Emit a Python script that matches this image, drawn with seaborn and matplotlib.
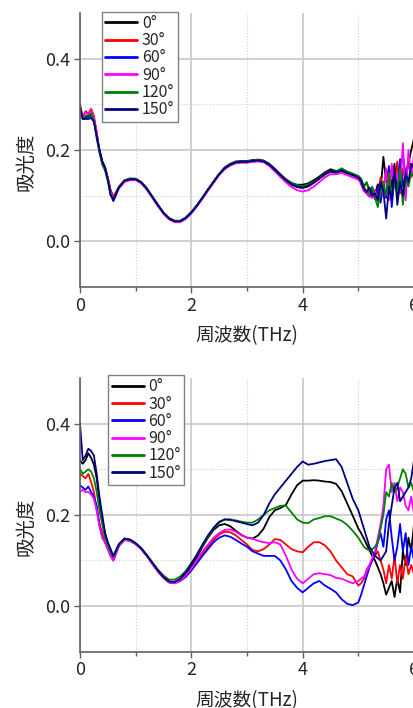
import numpy as np
import pandas as pd
import matplotlib
matplotlib.use("Agg")
import matplotlib.pyplot as plt
import seaborn as sns
from matplotlib.ticker import FormatStrFormatter

# frequency grid (THz): finer at the start and in the noisy tail
freq = np.round(np.r_[np.arange(0, 0.61, 0.05), np.arange(0.7, 5.01, 0.1), np.arange(5.05, 6.001, 0.05)], 2)

angles = ["0°", "30°", "60°", "90°", "120°", "150°"]
colors = ["#000000", "#ff0000", "#0000ff", "#ff00ff", "#008000", "#000080"]

# upper panel
top_0 = [0.300, 0.270, 0.272, 0.274, 0.276, 0.268, 0.235, 0.200, 0.176, 0.163, 0.140, 0.112, 0.097,
         0.120, 0.133, 0.137, 0.137, 0.130, 0.116, 0.098, 0.080, 0.063, 0.051, 0.045, 0.045, 0.052, 0.064,
         0.079, 0.096, 0.114, 0.131, 0.148, 0.162, 0.170, 0.175, 0.176, 0.176, 0.178, 0.179, 0.177, 0.170,
         0.159, 0.147, 0.136, 0.128, 0.124, 0.124, 0.127, 0.134, 0.142, 0.151, 0.158, 0.154, 0.157, 0.152,
         0.148, 0.142,
         0.135, 0.122, 0.128, 0.112, 0.118, 0.104, 0.125, 0.112, 0.185, 0.130, 0.160, 0.118, 0.170, 0.100,
         0.150, 0.190, 0.140, 0.170, 0.200, 0.225]
top_30 = [0.295, 0.272, 0.285, 0.280, 0.290, 0.275, 0.238, 0.198, 0.175, 0.160, 0.138, 0.110, 0.095,
          0.118, 0.132, 0.136, 0.136, 0.129, 0.115, 0.097, 0.079, 0.062, 0.050, 0.044, 0.044, 0.051, 0.063,
          0.078, 0.095, 0.113, 0.130, 0.147, 0.160, 0.168, 0.173, 0.174, 0.174, 0.176, 0.177, 0.175, 0.167,
          0.156, 0.144, 0.133, 0.124, 0.119, 0.117, 0.120, 0.128, 0.137, 0.146, 0.152, 0.150, 0.154, 0.148,
          0.144, 0.138,
          0.130, 0.118, 0.110, 0.105, 0.098, 0.112, 0.100, 0.140, 0.120, 0.150, 0.110, 0.160, 0.130, 0.175,
          0.105, 0.160, 0.130, 0.175, 0.150, 0.165]
top_60 = [0.290, 0.268, 0.270, 0.270, 0.272, 0.265, 0.232, 0.197, 0.172, 0.160, 0.135, 0.105, 0.088,
          0.117, 0.132, 0.136, 0.136, 0.129, 0.115, 0.097, 0.079, 0.062, 0.050, 0.044, 0.044, 0.051, 0.063,
          0.078, 0.095, 0.113, 0.130, 0.147, 0.160, 0.168, 0.173, 0.175, 0.175, 0.176, 0.177, 0.175, 0.168,
          0.157, 0.145, 0.133, 0.124, 0.119, 0.117, 0.121, 0.129, 0.138, 0.147, 0.153, 0.151, 0.155, 0.150,
          0.146, 0.143,
          0.125, 0.112, 0.105, 0.098, 0.110, 0.092, 0.118, 0.085, 0.125, 0.095, 0.165, 0.075, 0.140, 0.110,
          0.180, 0.120, 0.150, 0.175, 0.160, 0.150]
top_90 = [0.285, 0.272, 0.282, 0.278, 0.286, 0.270, 0.240, 0.195, 0.170, 0.158, 0.138, 0.108, 0.092,
          0.116, 0.130, 0.134, 0.134, 0.127, 0.113, 0.095, 0.077, 0.060, 0.048, 0.042, 0.042, 0.049, 0.061,
          0.076, 0.093, 0.111, 0.128, 0.145, 0.158, 0.166, 0.171, 0.172, 0.172, 0.174, 0.175, 0.173, 0.165,
          0.153, 0.141, 0.129, 0.119, 0.112, 0.109, 0.112, 0.120, 0.130, 0.140, 0.147, 0.147, 0.150, 0.145,
          0.140, 0.135,
          0.128, 0.110, 0.105, 0.100, 0.095, 0.110, 0.088, 0.130, 0.100, 0.160, 0.090, 0.170, 0.120, 0.150,
          0.110, 0.215, 0.090, 0.200, 0.140, 0.190]
top_120 = [0.290, 0.268, 0.275, 0.276, 0.280, 0.265, 0.225, 0.195, 0.168, 0.155, 0.132, 0.100, 0.092,
           0.119, 0.134, 0.138, 0.137, 0.130, 0.116, 0.098, 0.080, 0.063, 0.051, 0.045, 0.045, 0.052, 0.064,
           0.079, 0.096, 0.114, 0.131, 0.148, 0.161, 0.169, 0.174, 0.175, 0.175, 0.177, 0.178, 0.176, 0.169,
           0.158, 0.146, 0.135, 0.127, 0.123, 0.121, 0.124, 0.131, 0.139, 0.148, 0.155, 0.153, 0.160, 0.153,
           0.148, 0.143,
           0.138, 0.118, 0.130, 0.105, 0.120, 0.095, 0.075, 0.110, 0.130, 0.100, 0.150, 0.095, 0.130, 0.110,
           0.160, 0.080, 0.140, 0.120, 0.150, 0.140]
top_150 = [0.292, 0.268, 0.268, 0.268, 0.270, 0.262, 0.230, 0.200, 0.175, 0.160, 0.135, 0.102, 0.090,
           0.118, 0.133, 0.136, 0.136, 0.129, 0.115, 0.097, 0.079, 0.062, 0.050, 0.044, 0.044, 0.051, 0.063,
           0.078, 0.095, 0.113, 0.130, 0.147, 0.160, 0.168, 0.173, 0.174, 0.174, 0.176, 0.177, 0.175, 0.168,
           0.157, 0.145, 0.134, 0.125, 0.120, 0.118, 0.121, 0.129, 0.138, 0.147, 0.154, 0.151, 0.155, 0.150,
           0.145, 0.140,
           0.132, 0.115, 0.108, 0.118, 0.100, 0.105, 0.090, 0.130, 0.110, 0.050, 0.120, 0.090, 0.160, 0.080,
           0.130, 0.100, 0.150, 0.130, 0.170, 0.160]

# lower panel
bot_0 = [0.320, 0.312, 0.320, 0.335, 0.325, 0.310, 0.280, 0.230, 0.190, 0.160, 0.138, 0.122, 0.108,
         0.135, 0.148, 0.145, 0.137, 0.126, 0.111, 0.094, 0.077, 0.063, 0.053, 0.052, 0.059, 0.071, 0.088,
         0.107, 0.130, 0.150, 0.167, 0.177, 0.180, 0.175, 0.165, 0.156, 0.150, 0.148, 0.155, 0.170, 0.195,
         0.210, 0.215, 0.222, 0.245, 0.265, 0.275, 0.275, 0.276, 0.275, 0.273, 0.272, 0.268, 0.252, 0.225,
         0.198, 0.170,
         0.160, 0.148, 0.135, 0.122, 0.110, 0.100, 0.085, 0.070, 0.050, 0.025, 0.040, 0.055, 0.020, 0.060,
         0.030, 0.120, 0.090, 0.150, 0.120, 0.180]
bot_30 = [0.290, 0.285, 0.280, 0.290, 0.272, 0.250, 0.210, 0.180, 0.160, 0.140, 0.128, 0.115, 0.102,
          0.133, 0.146, 0.144, 0.136, 0.125, 0.110, 0.093, 0.076, 0.062, 0.052, 0.051, 0.056, 0.066, 0.080,
          0.097, 0.115, 0.130, 0.145, 0.157, 0.163, 0.162, 0.155, 0.145, 0.135, 0.123, 0.120, 0.125, 0.135,
          0.147, 0.145, 0.135, 0.125, 0.120, 0.118, 0.130, 0.140, 0.140, 0.133, 0.120, 0.100, 0.085, 0.070,
          0.065, 0.045,
          0.050, 0.060, 0.080, 0.090, 0.100, 0.110, 0.120, 0.100, 0.080, 0.050, 0.090, 0.060, 0.110, 0.050,
          0.090, 0.060, 0.110, 0.070, 0.090, 0.070]
bot_60 = [0.265, 0.260, 0.255, 0.262, 0.250, 0.240, 0.220, 0.180, 0.150, 0.140, 0.125, 0.110, 0.100,
          0.132, 0.145, 0.143, 0.136, 0.125, 0.110, 0.093, 0.076, 0.062, 0.052, 0.050, 0.055, 0.064, 0.078,
          0.094, 0.110, 0.125, 0.140, 0.150, 0.155, 0.152, 0.145, 0.137, 0.130, 0.120, 0.115, 0.110, 0.110,
          0.110, 0.100, 0.080, 0.055, 0.040, 0.030, 0.040, 0.050, 0.055, 0.045, 0.038, 0.030, 0.015, 0.005,
          0.002, 0.008,
          0.025, 0.045, 0.065, 0.085, 0.100, 0.115, 0.140, 0.160, 0.130, 0.190, 0.210, 0.150, 0.100, 0.130,
          0.180, 0.120, 0.160, 0.090, 0.130, 0.100]
bot_90 = [0.250, 0.255, 0.250, 0.250, 0.245, 0.235, 0.210, 0.175, 0.150, 0.140, 0.125, 0.110, 0.100,
          0.133, 0.145, 0.143, 0.136, 0.125, 0.110, 0.093, 0.076, 0.062, 0.052, 0.050, 0.056, 0.067, 0.082,
          0.100, 0.120, 0.135, 0.150, 0.160, 0.167, 0.168, 0.163, 0.155, 0.150, 0.148, 0.143, 0.140, 0.138,
          0.140, 0.135, 0.110, 0.080, 0.060, 0.050, 0.060, 0.070, 0.072, 0.070, 0.068, 0.062, 0.060, 0.055,
          0.050, 0.055,
          0.060, 0.065, 0.075, 0.090, 0.105, 0.120, 0.150, 0.180, 0.220, 0.300, 0.310, 0.250, 0.270, 0.230,
          0.260, 0.250, 0.220, 0.210, 0.240, 0.200]
bot_120 = [0.300, 0.290, 0.295, 0.300, 0.295, 0.280, 0.250, 0.210, 0.180, 0.150, 0.135, 0.120, 0.108,
           0.136, 0.148, 0.145, 0.138, 0.127, 0.112, 0.096, 0.080, 0.067, 0.058, 0.058, 0.065, 0.077, 0.094,
           0.112, 0.133, 0.152, 0.170, 0.183, 0.190, 0.188, 0.188, 0.185, 0.183, 0.183, 0.190, 0.200, 0.210,
           0.215, 0.220, 0.220, 0.205, 0.190, 0.183, 0.182, 0.190, 0.193, 0.197, 0.197, 0.192, 0.187, 0.178,
           0.165, 0.150,
           0.140, 0.130, 0.125, 0.122, 0.125, 0.130, 0.140, 0.170, 0.200, 0.250, 0.240, 0.270, 0.250, 0.260,
           0.280, 0.300, 0.290, 0.260, 0.270, 0.250]
bot_150 = [0.400, 0.320, 0.330, 0.345, 0.340, 0.330, 0.290, 0.240, 0.200, 0.160, 0.140, 0.125, 0.110,
           0.136, 0.148, 0.146, 0.138, 0.127, 0.112, 0.095, 0.078, 0.064, 0.054, 0.053, 0.060, 0.074, 0.093,
           0.113, 0.135, 0.155, 0.172, 0.185, 0.190, 0.190, 0.186, 0.183, 0.180, 0.177, 0.183, 0.200, 0.225,
           0.245, 0.260, 0.275, 0.290, 0.305, 0.317, 0.310, 0.312, 0.315, 0.318, 0.320, 0.322, 0.305, 0.270,
           0.235, 0.210,
           0.190, 0.170, 0.150, 0.130, 0.120, 0.110, 0.105, 0.100, 0.110, 0.120, 0.180, 0.220, 0.260, 0.270,
           0.230, 0.240, 0.250, 0.260, 0.280, 0.320]

panels = [
    ([top_0, top_30, top_60, top_90, top_120, top_150], (0.066, 1.005)),
    ([bot_0, bot_30, bot_60, bot_90, bot_120, bot_150], (0.085, 1.011)),
]

sns.set_style("white")
plt.rcParams["font.family"] = ["Noto Sans CJK JP", "DejaVu Sans"]

fig = plt.figure(figsize=(4.14, 7.08), dpi=100)
axes = [fig.add_axes([0.1932, 0.5946, 0.8068, 0.387]),
        fig.add_axes([0.1932, 0.0795, 0.8068, 0.3866])]

for ax, (series, leg_pos) in zip(axes, panels):
    rows = []
    for ang, vals in zip(angles, series):
        assert len(vals) == len(freq), (ang, len(vals))
        rows.append(pd.DataFrame({"freq": freq, "abs": vals, "angle": ang}))
    df = pd.concat(rows, ignore_index=True)

    sns.lineplot(data=df, x="freq", y="abs", hue="angle", hue_order=angles,
                 palette=dict(zip(angles, colors)), estimator=None, sort=False,
                 linewidth=1.3, ax=ax)

    ax.set_xlim(0, 6)
    ax.set_ylim(-0.1, 0.5)
    ax.set_xticks([0, 2, 4, 6])
    ax.set_xticks([1, 3, 5], minor=True)
    ax.set_yticks([0.0, 0.2, 0.4])
    ax.set_yticks([0.1, 0.3], minor=True)
    ax.yaxis.set_major_formatter(FormatStrFormatter("%.1f"))
    ax.grid(which="major", color="#c8c8c8", linewidth=1.2, linestyle="-")
    ax.grid(which="minor", color="#cfcfcf", linewidth=0.8, linestyle=":")
    ax.set_axisbelow(True)

    for side in ("top", "right"):
        ax.spines[side].set_visible(False)
    for side in ("left", "bottom"):
        ax.spines[side].set_color("#606060")
        ax.spines[side].set_linewidth(1.2)

    ax.tick_params(axis="both", which="major", direction="out", length=4, width=1,
                   color="#606060", labelsize=13, pad=3, left=True, bottom=True)
    ax.tick_params(axis="x", which="minor", direction="out", length=3, width=1,
                   color="#606060", bottom=True)
    ax.tick_params(axis="y", which="minor", length=0)

    ax.set_xlabel("周波数(THz)", fontsize=13.5, va="center")
    ax.xaxis.set_label_coords(0.5, -0.177)
    ax.set_ylabel("吸光度", fontsize=14, va="center")
    ax.yaxis.set_label_coords(-0.163, 0.456)

    handles, labels = ax.get_legend_handles_labels()
    leg = ax.legend(handles, labels, loc="upper left", bbox_to_anchor=leg_pos,
                    borderaxespad=0, fontsize=11.5, labelspacing=0.02, handlelength=2.0,
                    handletextpad=0.3, borderpad=0.2, fancybox=False, framealpha=1,
                    edgecolor="#808080")
    leg.get_frame().set_linewidth(1.0)
    for ln in leg.get_lines():
        ln.set_linewidth(2.0)

fig.savefig("out.png", dpi=100)
plt.close(fig)
